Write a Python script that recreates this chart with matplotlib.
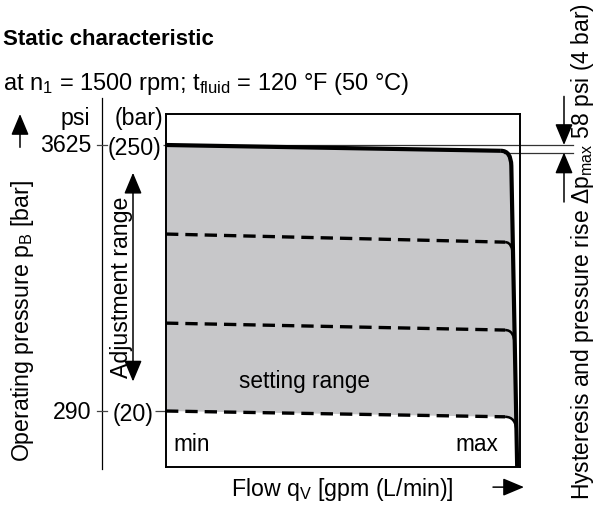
import matplotlib
matplotlib.use("Agg")
import matplotlib.pyplot as plt
from matplotlib.path import Path
from matplotlib.patches import PathPatch
from matplotlib.transforms import ScaledTranslation

plt.rcParams['font.family'] = ['Liberation Sans', 'DejaVu Sans']
plt.rcParams['mathtext.fontset'] = 'custom'
plt.rcParams['mathtext.rm'] = 'Liberation Sans'
plt.rcParams['mathtext.default'] = 'regular'

# ---------------- data ----------------
set_pressure_bar = [250, 173, 96, 20]      # setting levels at q = min
pressure_drop_bar = [5, 7, 6, 5]           # pressure drop up to the knee
level_styles = ["solid", "dashed", "dashed", "dashed"]
tick_bar = [250, 20]
tick_bar_labels = ["(250)", "(20)"]
tick_psi_labels = ["3625", "290"]
hysteresis_band_bar = [250, 243.5]
flow_knee = 94.6                            # % of flow where curves bend
cutoff_x = [97.5, 99.2]                     # cut-off line x at top / bottom
cutoff_p = [240, -28.4]
corner_depth_bar = 13
y_limits = [-28.4, 276.8]
x_limits = [0, 100]

GRAY = "#c7c7c9"
FS = 16.7

def cut_x(p):
    t = (p - cutoff_p[0]) / (cutoff_p[1] - cutoff_p[0])
    return cutoff_x[0] + t * (cutoff_x[1] - cutoff_x[0])

fig = plt.figure(figsize=(6.03, 5.06), dpi=100)
W, H = 603, 506
box_l, box_r, box_t, box_b = 166, 520, 115, 468
ax = fig.add_axes([box_l / W, (H - box_b) / H, (box_r - box_l) / W, (box_b - box_t) / H])
ax.set_xlim(x_limits)
ax.set_ylim(y_limits)
for s in ax.spines.values():
    s.set_linewidth(1.4)
ax.set_xticks([])
ax.set_yticks(tick_bar)
ax.set_yticklabels(tick_bar_labels, fontsize=FS)
ax.tick_params(axis='y', length=2.5, width=0.9, pad=0.5, color='#444444')
# the lower bar tick is longer, its label sits further left
ax.yaxis.get_major_ticks()[1].tick1line.set_markersize(8)
lab20 = ax.get_yticklabels()[1]
lab20.set_transform(lab20.get_transform() + ScaledTranslation(-6 / 72, 0, fig.dpi_scale_trans))

def corner(p0, d):
    p1 = p0 - d
    p2 = p1 - corner_depth_bar
    return (flow_knee, p1), (cut_x(p1), p1), (cut_x(p2), p2)

# gray fill between top characteristic and lowest characteristic
k1, c1, e1 = corner(set_pressure_bar[0], pressure_drop_bar[0])
k4, c4, e4 = corner(set_pressure_bar[-1], pressure_drop_bar[-1])
verts = [(0, set_pressure_bar[0]), k1, c1, e1, e4, c4, k4, (0, set_pressure_bar[-1]), (0, 0)]
codes = [Path.MOVETO, Path.LINETO, Path.CURVE3, Path.CURVE3, Path.LINETO,
         Path.CURVE3, Path.CURVE3, Path.LINETO, Path.CLOSEPOLY]
ax.add_patch(PathPatch(Path(verts, codes), facecolor=GRAY, edgecolor='none', zorder=1))

# hysteresis reference lines
trans_y = ax.get_yaxis_transform()
ax.plot([0, 1.15], [hysteresis_band_bar[0]] * 2, color='#333333', lw=0.9,
        transform=trans_y, clip_on=False, zorder=2)
ax.plot([(flow_knee + 1) / 100, 1.15], [hysteresis_band_bar[1]] * 2, color='#333333', lw=0.9,
        transform=trans_y, clip_on=False, zorder=2)

# characteristic lines
for p0, d, st in zip(set_pressure_bar, pressure_drop_bar, level_styles):
    k, c, e = corner(p0, d)
    if st == "solid":
        ax.plot([0, k[0]], [p0, k[1]], color='black', lw=3.0, solid_capstyle='butt', zorder=3)
        path = Path([k, c, e, (cut_x(y_limits[0]), y_limits[0])],
                    [Path.MOVETO, Path.CURVE3, Path.CURVE3, Path.LINETO])
        ax.add_patch(PathPatch(path, facecolor='none', edgecolor='black', lw=3.0, zorder=3))
    else:
        ax.plot([0, k[0] + 1.2], [p0, k[1]], color='black', lw=2.4, ls=(0, (3.7, 2.1)), zorder=3)
        path = Path([(k[0] + 1.2, k[1]), c, e], [Path.MOVETO, Path.CURVE3, Path.CURVE3])
        ax.add_patch(PathPatch(path, facecolor='none', edgecolor='black', lw=1.8, zorder=3))

# texts inside
ax.text(39.0, 46, "setting range", fontsize=16.3, ha='center', va='center')
ax.text(2.0, -8.5, "min", fontsize=16.3, ha='left', va='center')
ax.text(93.8, -8.5, "max", fontsize=16.3, ha='right', va='center')

# left psi scale
def ax_x(px):
    return (px - box_l) / (box_r - box_l)

ax.plot([ax_x(102)] * 2, [290.5, -30.2], color='black', lw=0.9, transform=trans_y, clip_on=False)
for p, lab in zip(tick_bar, tick_psi_labels):
    ax.plot([ax_x(97), ax_x(107)], [p, p], color='#444444', lw=0.9, transform=trans_y, clip_on=False)
    ax.text(ax_x(91), p, lab, fontsize=FS, ha='right', va='center', transform=trans_y)
ax.text(ax_x(90), 274.2, "psi", fontsize=FS, ha='right', va='center', transform=trans_y)
ax.text(ax_x(115), 274.2, "(bar)", fontsize=FS, ha='left', va='center', transform=trans_y)

ARROW = '-|>,head_length=0.62,head_width=0.26'
ARROW2 = '<|-|>,head_length=0.62,head_width=0.26'

# up arrow and y label
ax.annotate("", xy=(ax_x(20), 276.8), xytext=(ax_x(20), 248), xycoords=trans_y, textcoords=trans_y,
            arrowprops=dict(arrowstyle=ARROW, color='black', lw=1.1, mutation_scale=21,
                            shrinkA=0, shrinkB=0))
ax.text(ax_x(22), 98.7, "Operating pressure p$_B$ [bar]", fontsize=FS, rotation=90,
        ha='center', va='center', transform=trans_y)

# adjustment range
ax.annotate("", xy=(ax_x(133), 226), xytext=(ax_x(133), 45.5), xycoords=trans_y, textcoords=trans_y,
            arrowprops=dict(arrowstyle=ARROW2, color='black', lw=1.1, mutation_scale=21,
                            shrinkA=0, shrinkB=0))
ax.text(ax_x(121), 128, "Adjustment range", fontsize=FS, rotation=90,
        ha='center', va='center', transform=trans_y)

# hysteresis arrows on the right
xr = ax_x(564)
ax.annotate("", xy=(xr, hysteresis_band_bar[0]), xytext=(xr, 292), xycoords=trans_y, textcoords=trans_y,
            arrowprops=dict(arrowstyle=ARROW, color='black', lw=1.1, mutation_scale=21,
                            shrinkA=0, shrinkB=0))
ax.annotate("", xy=(xr, hysteresis_band_bar[1]), xytext=(xr, 200.7), xycoords=trans_y, textcoords=trans_y,
            arrowprops=dict(arrowstyle=ARROW, color='black', lw=1.1, mutation_scale=21,
                            shrinkA=0, shrinkB=0))
ax.text(ax_x(582), 0.612, "Hysteresis and pressure rise $\\Delta$p$_{max}$ 58 psi (4 bar)",
        fontsize=16.5, rotation=90, ha='center', va='center', transform=ax.transAxes)

# x label and arrow
ax.text(ax_x(342), -0.062, "Flow q$_V$ [gpm (L/min)]", fontsize=FS, ha='center', va='center',
        transform=ax.transAxes)
ax.annotate("", xy=(ax_x(524), -0.057), xytext=(ax_x(493), -0.057), xycoords='axes fraction',
            textcoords='axes fraction',
            arrowprops=dict(arrowstyle=ARROW, color='black', lw=1.1, mutation_scale=21,
                            shrinkA=0, shrinkB=0))

# titles
fig.text(3 / W, 1 - 45 / H, "Static characteristic", fontsize=16, fontweight='bold',
         ha='left', va='baseline')
fig.text(3 / W, 1 - 90 / H, "at n$_1$ = 1500 rpm; t$_{fluid}$ = 120 °F (50 °C)", fontsize=17,
         ha='left', va='baseline')

fig.savefig("out.png", dpi=100)
